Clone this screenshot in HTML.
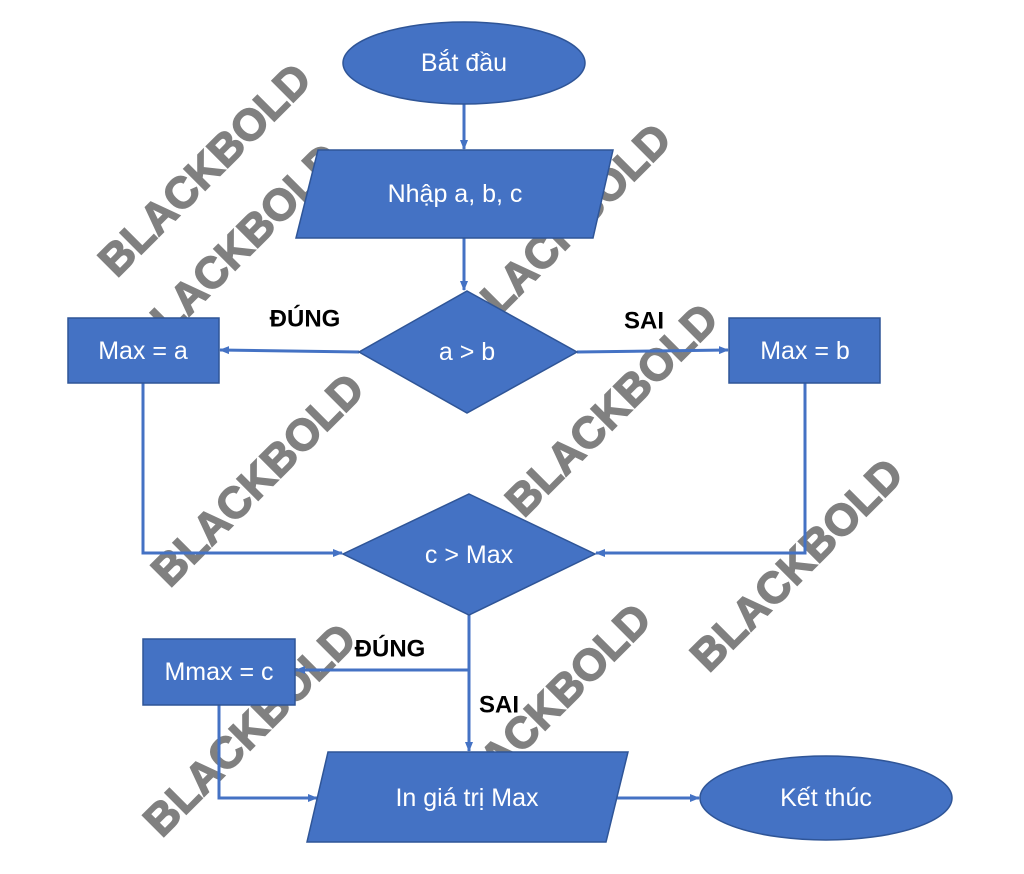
<!DOCTYPE html>
<html><head><meta charset="utf-8"><style>
html,body{margin:0;padding:0;background:#fff;width:1024px;height:874px;overflow:hidden}
svg{display:block}
.wm{font-family:"Liberation Sans",sans-serif;font-weight:bold;font-size:44px;fill:#808080;stroke:#808080;stroke-width:1.5;letter-spacing:0px}
.t{font-family:"Liberation Sans","DejaVu Sans",sans-serif;font-size:25px;fill:#fff;text-anchor:middle;dominant-baseline:central}
.l{font-family:"Liberation Sans","DejaVu Sans",sans-serif;font-size:24px;font-weight:bold;fill:#000;text-anchor:middle;dominant-baseline:central}
</style></head><body>
<svg width="1024" height="874" viewBox="0 0 1024 874">
<defs><marker id="a" markerWidth="10" markerHeight="10" refX="9" refY="5" orient="auto" markerUnits="userSpaceOnUse"><path d="M0,1 L10,5 L0,9 z" fill="#4472c4"/></marker></defs>
<g class="wm" text-anchor="middle" dominant-baseline="central">
<text transform="translate(205,170) rotate(-45)">BLACKBOLD</text>
<text transform="translate(235,250) rotate(-45)">BLACKBOLD</text>
<text transform="translate(565,230) rotate(-45)">BLACKBOLD</text>
<text transform="translate(258,480) rotate(-45)">BLACKBOLD</text>
<text transform="translate(612,410) rotate(-45)">BLACKBOLD</text>
<text transform="translate(797,565) rotate(-45)">BLACKBOLD</text>
<text transform="translate(250,730) rotate(-45)">BLACKBOLD</text>
<text transform="translate(545,710) rotate(-45)">BLACKBOLD</text>
</g>
<g stroke="#4472c4" stroke-width="3" fill="none">
<line x1="464" y1="104" x2="464" y2="149" marker-end="url(#a)"/>
<line x1="464" y1="238" x2="464" y2="290" marker-end="url(#a)"/>
<line x1="359" y1="352" x2="220" y2="350" marker-end="url(#a)"/>
<line x1="577" y1="352" x2="728" y2="350" marker-end="url(#a)"/>
<polyline points="143,383 143,553 342,553" marker-end="url(#a)"/>
<polyline points="805,383 805,553 596,553" marker-end="url(#a)"/>
<line x1="469" y1="615" x2="469" y2="751" marker-end="url(#a)"/>
<line x1="469" y1="670" x2="296" y2="670" marker-end="url(#a)"/>
<polyline points="219,705 219,798 317,798" marker-end="url(#a)"/>
<line x1="617" y1="798" x2="699" y2="798" marker-end="url(#a)"/>
</g>
<g fill="#4472c4" stroke="#2f5597" stroke-width="1.5">
<ellipse cx="464" cy="63" rx="121" ry="41"/>
<polygon points="318,150 613,150 593,238 296,238"/>
<polygon points="467,291 577,352 467,413 359,352"/>
<rect x="68" y="318" width="151" height="65"/>
<rect x="729" y="318" width="151" height="65"/>
<polygon points="469,494 595,554 469,615 343,554"/>
<rect x="143" y="639" width="152" height="66"/>
<polygon points="328,752 628,752 606,842 307,842"/>
<ellipse cx="826" cy="798" rx="126" ry="42"/>
</g>
<text class="t" x="464" y="63">Bắt đầu</text>
<text class="t" x="455" y="194">Nhập a, b, c</text>
<text class="t" x="467" y="352">a &gt; b</text>
<text class="t" x="143" y="351">Max = a</text>
<text class="t" x="805" y="351">Max = b</text>
<text class="t" x="469" y="555">c &gt; Max</text>
<text class="t" x="219" y="672">Mmax = c</text>
<text class="t" x="467" y="798">In giá trị Max</text>
<text class="t" x="826" y="798">Kết thúc</text>
<text class="l" x="305" y="319">ĐÚNG</text>
<text class="l" x="644" y="321">SAI</text>
<text class="l" x="390" y="649">ĐÚNG</text>
<text class="l" x="499" y="705">SAI</text>
</svg>
</body></html>
